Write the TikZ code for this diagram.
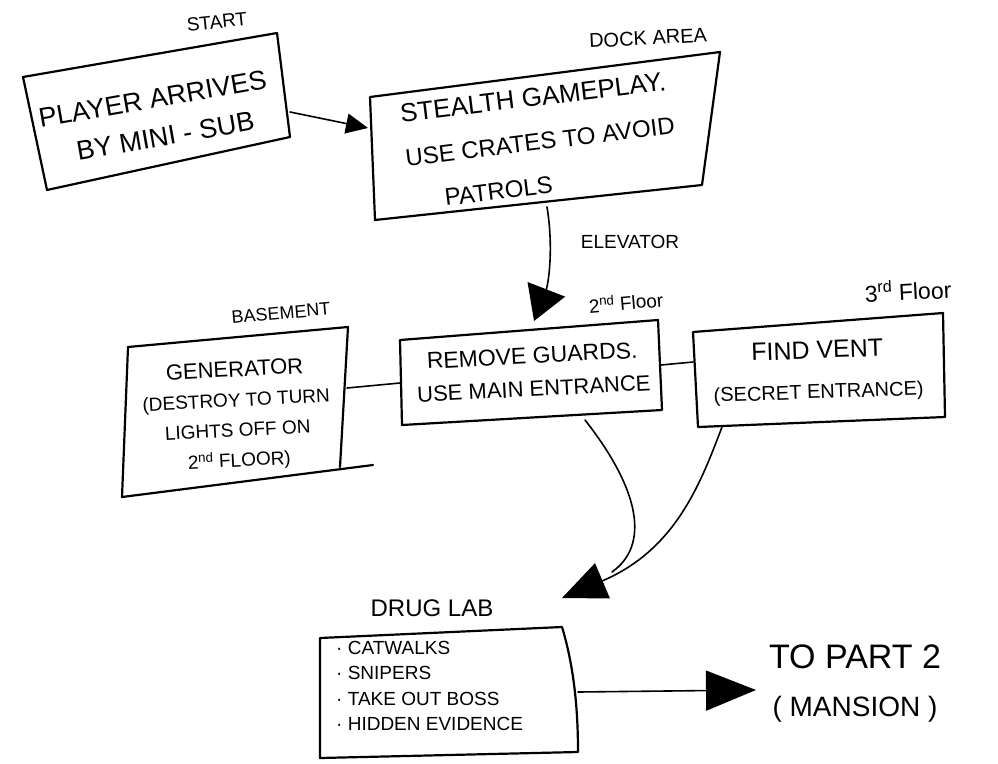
\documentclass[tikz,border=0pt]{standalone}
\usepackage{fontspec}
\setmainfont{Liberation Sans}
\usetikzlibrary{arrows.meta}
\begin{document}
\begin{tikzpicture}[x=1pt,y=-1pt,line cap=round,line join=round]
\tikzset{
  box/.style={draw=black,line width=2.2pt},
  link/.style={draw=black,line width=1.6pt},
  txt/.style={inner sep=0pt,align=center},
  tag/.style={inner sep=0pt,font=\fontsize{18}{20}\selectfont},
  tipS/.style={-{Triangle[length=22pt,width=20pt]}},
  tipM/.style={-{Triangle[length=34pt,width=40pt]}},
  tipL/.style={-{Triangle[length=44pt,width=38pt]}},
  tipXL/.style={-{Triangle[length=50pt,width=40pt]}},
}
\useasboundingbox (0,0) rectangle (998,763);

% --- start: player arrives
\draw[box] (23,77) -- (277,33) -- (290,137) -- (47,190) -- cycle;
\node[tag,rotate=6,font=\fontsize{19}{21}\selectfont] (start) at (217,22) {START};
\node[txt,rotate=10,font=\fontsize{27}{39}\selectfont] (arrive) at (156,118)
  {PLAYER ARRIVES\\\hspace*{12pt}BY MINI - SUB};
\coordinate (arrout) at (290,112);

% --- dock area
\draw[box] (370,97) -- (720,52) -- (702,185) -- (375,220) -- cycle;
\node[tag,rotate=3,font=\fontsize{20}{22}\selectfont] (dock) at (648,38) {DOCK AREA};
\node[txt,align=left,rotate=7,font=\fontsize{24}{44}\selectfont] (stealth) at (540,141)
  {{\fontsize{26}{44}\selectfont STEALTH GAMEPLAY.}\\USE CRATES TO AVOID\\\hspace*{34pt}PATROLS};
\coordinate (dockin) at (368,128);
\coordinate (dockout) at (547,207);

% --- 2nd floor
\draw[box] (400,340) -- (658,320) -- (662,410) -- (402,425) -- cycle;
\node[tag,rotate=5,font=\fontsize{19}{22}\selectfont] (fl2) at (626,302) {2\textsuperscript{nd} Floor};
\node[txt,rotate=3,font=\fontsize{22}{33}\selectfont] (guards) at (533,372)
  {{\fontsize{23}{33}\selectfont REMOVE GUARDS.}\\USE MAIN ENTRANCE};
\coordinate (rgin) at (534,321);
\coordinate (rgleft) at (400,383);
\coordinate (rgright) at (661,365);
\coordinate (rgout) at (585,420);
\node[tag,font=\fontsize{19}{21}\selectfont] (elev) at (630,242) {ELEVATOR};

% --- 3rd floor
\draw[box] (693,332) -- (943,313) -- (945,417) -- (698,427) -- cycle;
\node[tag,rotate=3,font=\fontsize{23}{26}\selectfont] (fl3) at (908,290) {3\textsuperscript{rd} Floor};
\node[txt,rotate=2,font=\fontsize{20}{40}\selectfont] (vent) at (818,372)
  {{\fontsize{25}{40}\selectfont FIND VENT}\\(SECRET ENTRANCE)};
\coordinate (fvleft) at (693,362);
\coordinate (fvout) at (722,427);

% --- basement
\draw[box] (128,347) -- (348,327) -- (340,467);
\draw[box] (373,465) -- (122,497) -- (128,347);
\node[tag,rotate=5] (base) at (281,313) {BASEMENT};
\node[txt,rotate=3,font=\fontsize{19}{30}\selectfont] (gen) at (237,416)
  {{\fontsize{22}{30}\selectfont GENERATOR}\\(DESTROY TO TURN\\LIGHTS OFF ON\\2\textsuperscript{nd} FLOOR)};
\coordinate (genout) at (347,388);

% --- drug lab
\draw[box] (320,638) -- (562,627) .. controls (572,660) and (578,700) .. (578,752) -- (320,758) -- cycle;
\node[txt,font=\fontsize{24}{28}\selectfont] (lab) at (432,608) {DRUG LAB};
\node[txt,align=left,anchor=north west,font=\fontsize{19}{25.5}\selectfont] (labitems) at (336,641)
  {· CATWALKS\\· SNIPERS\\· TAKE OUT BOSS\\· HIDDEN EVIDENCE};
\coordinate (labin) at (562,598);
\coordinate (labmerge) at (612,572);
\coordinate (labout) at (578,692);

% --- part 2
\node[txt,font=\fontsize{28}{48}\selectfont] (part2) at (855,684)
  {{\fontsize{34}{48}\selectfont TO PART 2}\\( MANSION )};
\coordinate (p2in) at (756,690);

% --- connectors
\draw[link,tipS] (arrout) -- (dockin);
\draw[link,tipM] (dockout) .. controls (554,250) and (548,285) .. (rgin);
\draw[link] (genout) -- (rgleft);
\draw[link] (rgright) -- (fvleft);
\draw[link] (rgout) .. controls (640,490) and (650,545) .. (labmerge);
\draw[link,tipL] (fvout) .. controls (700,485) and (675,550) .. (labin);
\draw[link,tipXL] (labout) -- (p2in);
\end{tikzpicture}
\end{document}
